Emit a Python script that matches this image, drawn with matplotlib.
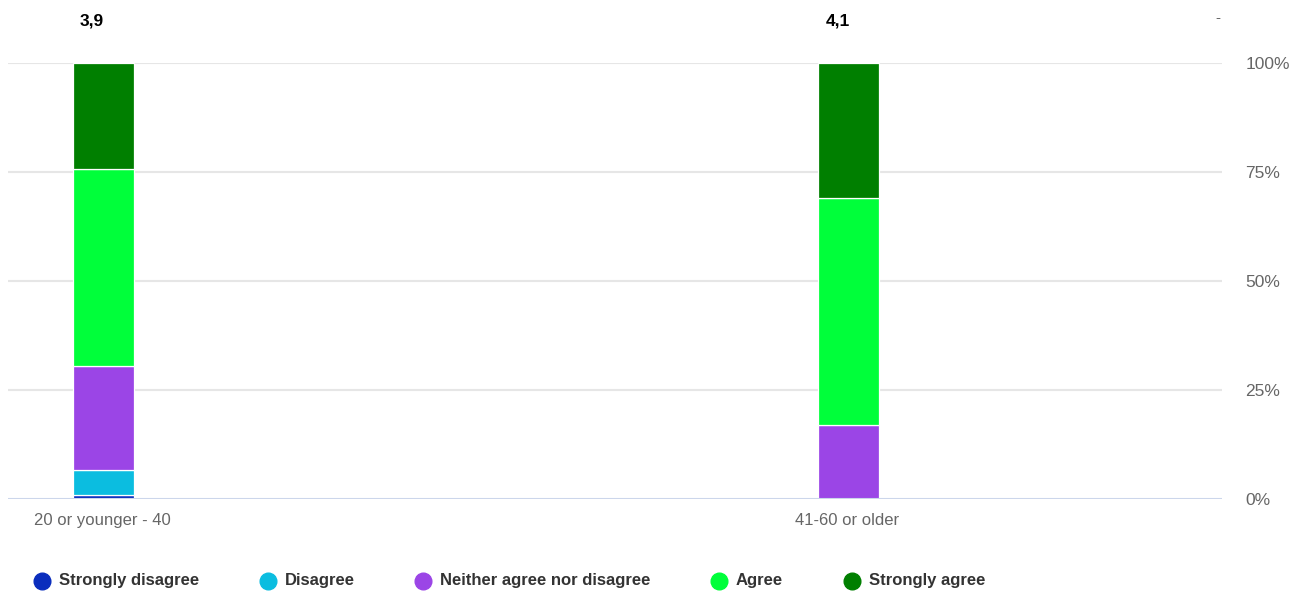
import matplotlib.pyplot as plt
from matplotlib.lines import Line2D
import numpy as np

# data (percent of answers per age group)
grupos = ["20 or younger - 40", "41-60 or older"]
respostas = ["Strongly disagree", "Disagree", "Neither agree nor disagree", "Agree", "Strongly agree"]
strongly_disagree = [1.0, 0.0]
disagree = [5.6, 0.0]
neither = [23.9, 17.0]
agree = [45.3, 52.0]
strongly_agree = [24.2, 31.0]
medias = ["3,9", "4,1"]

cores = ["#0a2dbd", "#0bbde0", "#9b45e6", "#00ff3a", "#007f00"]

plt.rcParams['font.family'] = ['Liberation Sans', 'DejaVu Sans']

fig = plt.figure(figsize=(12.98, 5.97), dpi=100)
W, H = 1298, 597
ax = fig.add_axes([8 / W, 1 - 499 / H, (1222 - 8) / W, (499 - 63) / H])

x = np.arange(len(grupos))
series = [strongly_disagree, disagree, neither, agree, strongly_agree]
base = np.zeros(len(grupos))
for valores, cor in zip(series, cores):
    valores = np.array(valores)
    ax.bar(x + 0.002, valores, bottom=base, width=0.082, color=cor,
           edgecolor='white', linewidth=0.9, zorder=3)
    base = base + valores

ax.set_xlim(-0.126, 1.503)
ax.set_ylim(0, 100)

# grid
for v in [25, 50, 75, 100]:
    ax.axhline(v, color='#e6e6e6', linewidth=1.5, zorder=1)
ax.axhline(0, color='#ccd6eb', linewidth=1.5, zorder=4)

for s in ax.spines.values():
    s.set_visible(False)
ax.tick_params(length=0)
ax.set_xticks(x)
ax.set_xticklabels(grupos, fontsize=12, color='#666666')
ax.tick_params(axis='x', pad=10)
ax.yaxis.tick_right()
ax.set_yticks([0, 25, 50, 75, 100])
ax.set_yticklabels(["0%", "25%", "50%", "75%", "100%"], fontsize=12.5, color='#666666')
ax.tick_params(axis='y', pad=17)

# mean labels above the bars
for xi, m in zip(x, medias):
    ax.annotate(m, xy=(xi, 100), xytext=(-7, 30), textcoords='offset points',
                ha='center', va='center', fontsize=12.5, fontweight='bold',
                color='black', annotation_clip=False)
fig.text(1218 / W, 1 - 18 / H, "-", ha='center', va='center', fontsize=11, color='#666666')

# legend drawn by hand
leg_x = [42, 268, 423, 719, 852]
leg_y = 1 - 581 / H
for lx, nome, cor in zip(leg_x, respostas, cores):
    fig.add_artist(Line2D([lx / W], [leg_y], transform=fig.transFigure, marker='o',
                          markersize=12, color=cor, linestyle='none'))
    fig.text((lx + 17) / W, leg_y, nome, ha='left', va='center', fontsize=12,
             fontweight='bold', color='#333333')

fig.savefig('out.png', dpi=100)
